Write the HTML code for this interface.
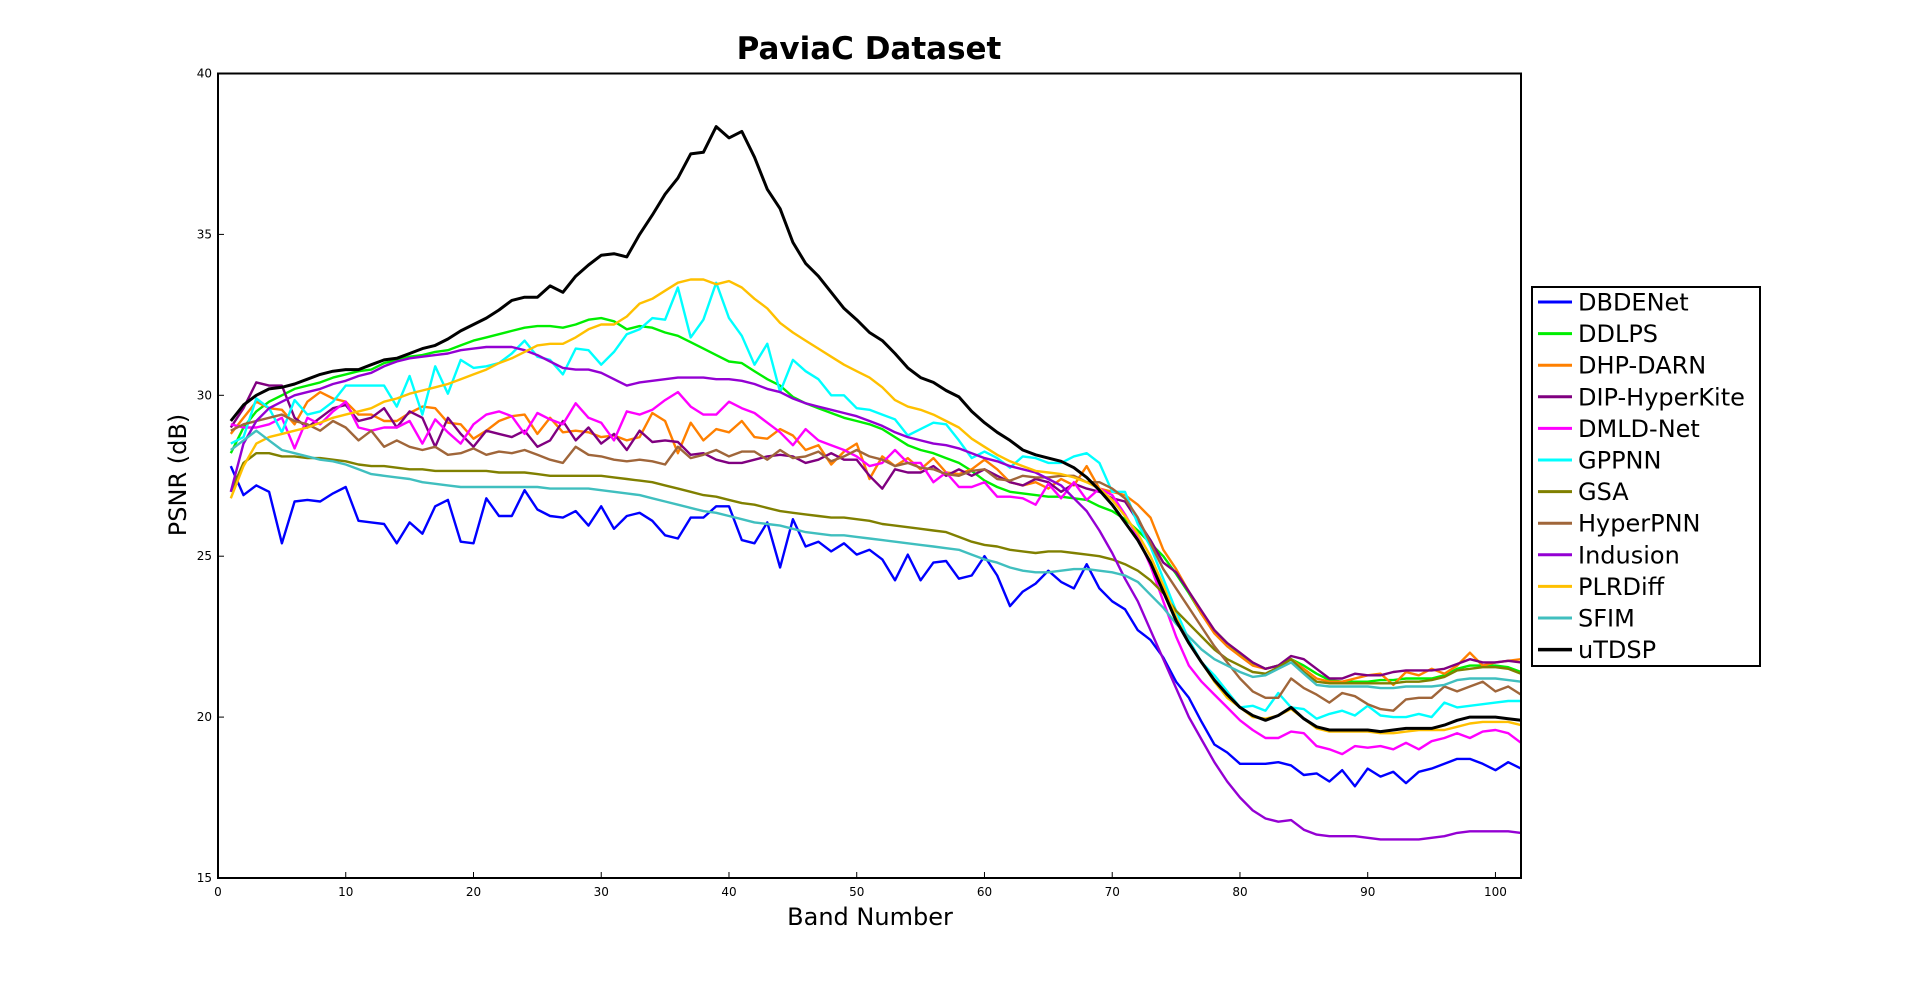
<!DOCTYPE html>
<html><head><meta charset="utf-8"><title>PaviaC Dataset</title>
<style>html,body{margin:0;padding:0;background:#fff;}svg{display:block;font-family:"DejaVu Sans","Liberation Sans",sans-serif;}</style>
</head><body>
<svg id="chart" width="1920" height="988" viewBox="0 0 1920 988" xmlns="http://www.w3.org/2000/svg">
<rect x="0" y="0" width="1920" height="988" fill="#fff"/>
<text x="869" y="59" text-anchor="middle" font-size="31" font-weight="bold">PaviaC Dataset</text>
<g id="series"></g>
<rect x="218" y="73.5" width="1303" height="804.5" fill="none" stroke="#000" stroke-width="2"/>
<g id="ticks"></g>
<text x="870" y="925" text-anchor="middle" font-size="24">Band Number</text>
<text x="186" y="475" text-anchor="middle" font-size="24" transform="rotate(-90 186 475)">PSNR (dB)</text>
<g id="legend"></g>
</svg>
<script>
const xTicks=[0,10,20,30,40,50,60,70,80,90,100];
const yTicks=[15,20,25,30,35,40];
const seriesNames=["DBDENet","DDLPS","DHP-DARN","DIP-HyperKite","DMLD-Net","GPPNN","GSA","HyperPNN","Indusion","PLRDiff","SFIM","uTDSP"];
const seriesColors=["#0000ff","#00ee00","#ff8000","#800080","#ff00ff","#00ffff","#808000","#a0663a","#9400d3","#ffc000","#40bfbf","#000000"];
const dbdenet=[27.8,26.9,27.2,27.0,25.4,26.7,26.75,26.7,26.95,27.15,26.1,26.05,26.0,25.4,26.05,25.7,26.55,26.75,25.45,25.4,26.8,26.25,26.25,27.05,26.45,26.25,26.2,26.4,25.95,26.55,25.85,26.25,26.35,26.1,25.65,25.55,26.2,26.2,26.55,26.55,25.5,25.4,26.05,24.65,26.15,25.3,25.45,25.15,25.4,25.05,25.2,24.9,24.25,25.05,24.25,24.8,24.85,24.3,24.4,25.0,24.4,23.45,23.9,24.15,24.55,24.2,24.0,24.75,24.0,23.6,23.35,22.7,22.4,21.85,21.1,20.6,19.85,19.15,18.9,18.55,18.55,18.55,18.6,18.5,18.2,18.25,18.0,18.35,17.85,18.4,18.15,18.3,17.95,18.3,18.4,18.55,18.7,18.7,18.55,18.35,18.6,18.4];
const ddlps=[28.2,29.0,29.5,29.8,30.0,30.2,30.3,30.4,30.55,30.65,30.75,30.8,31.0,31.1,31.2,31.25,31.35,31.4,31.55,31.7,31.8,31.9,32.0,32.1,32.15,32.15,32.1,32.2,32.35,32.4,32.3,32.05,32.15,32.1,31.95,31.85,31.65,31.45,31.25,31.05,31.0,30.75,30.5,30.3,29.95,29.75,29.6,29.45,29.3,29.2,29.1,28.95,28.7,28.45,28.3,28.2,28.05,27.9,27.65,27.35,27.15,27.0,26.95,26.9,26.85,26.85,26.8,26.75,26.55,26.4,26.15,25.8,25.4,25.0,24.45,23.85,23.2,22.7,22.3,21.95,21.65,21.5,21.6,21.8,21.6,21.35,21.15,21.1,21.1,21.1,21.15,21.15,21.2,21.2,21.2,21.3,21.5,21.6,21.6,21.6,21.55,21.4];
const dhpdarn=[28.8,29.3,29.8,29.6,29.55,29.1,29.8,30.1,29.9,29.8,29.4,29.4,29.2,29.2,29.45,29.65,29.6,29.15,29.1,28.65,28.9,29.2,29.35,29.4,28.8,29.3,28.85,28.9,28.85,28.7,28.75,28.6,28.7,29.45,29.2,28.2,29.15,28.6,28.95,28.85,29.2,28.7,28.65,28.95,28.75,28.3,28.45,27.85,28.25,28.5,27.4,28.1,27.8,28.05,27.7,28.05,27.6,27.55,27.7,28.0,27.7,27.3,27.2,27.3,27.1,27.4,27.2,27.8,27.1,27.0,26.9,26.6,26.2,25.2,24.6,23.9,23.2,22.6,22.2,21.9,21.6,21.5,21.6,21.8,21.5,21.2,21.1,21.1,21.2,21.3,21.35,21.0,21.4,21.3,21.5,21.35,21.6,22.0,21.6,21.7,21.75,21.8];
const diphyperkite=[29.0,29.6,30.4,30.3,30.3,29.3,29.0,29.3,29.6,29.7,29.2,29.3,29.6,29.0,29.5,29.3,28.4,29.3,28.8,28.4,28.9,28.8,28.7,28.9,28.4,28.6,29.2,28.6,29.0,28.5,28.8,28.3,28.9,28.55,28.6,28.55,28.15,28.2,28.0,27.9,27.9,28.0,28.1,28.15,28.1,27.9,28.0,28.2,28.0,28.0,27.5,27.1,27.7,27.6,27.6,27.8,27.5,27.7,27.5,27.7,27.5,27.3,27.2,27.4,27.3,27.0,27.25,27.1,27.0,26.8,26.7,26.1,25.5,24.8,24.5,23.9,23.3,22.7,22.3,22.0,21.7,21.5,21.6,21.9,21.8,21.5,21.2,21.2,21.35,21.3,21.3,21.4,21.45,21.45,21.45,21.5,21.65,21.8,21.7,21.7,21.75,21.7];
const dmldnet=[29.1,29.0,29.0,29.1,29.3,28.35,29.3,29.1,29.5,29.8,29.0,28.9,29.0,29.0,29.2,28.5,29.25,28.85,28.5,29.1,29.4,29.5,29.35,28.8,29.45,29.25,29.1,29.75,29.3,29.15,28.6,29.5,29.4,29.55,29.85,30.1,29.65,29.4,29.4,29.8,29.6,29.45,29.15,28.85,28.45,28.95,28.6,28.45,28.3,28.1,27.8,27.9,28.3,27.9,27.9,27.3,27.6,27.15,27.15,27.3,26.85,26.85,26.8,26.6,27.25,26.8,27.3,26.75,27.1,26.9,26.3,25.6,24.7,23.6,22.5,21.6,21.1,20.7,20.3,19.9,19.6,19.35,19.35,19.55,19.5,19.1,19.0,18.85,19.1,19.05,19.1,19.0,19.2,19.0,19.25,19.35,19.5,19.35,19.55,19.6,19.5,19.2];
const gppnn=[28.5,28.7,29.9,29.6,28.85,29.85,29.4,29.5,29.8,30.3,30.3,30.3,30.3,29.65,30.6,29.4,30.9,30.05,31.1,30.85,30.9,31.0,31.3,31.7,31.2,31.1,30.65,31.45,31.4,30.95,31.35,31.9,32.05,32.4,32.35,33.35,31.8,32.35,33.5,32.4,31.85,30.95,31.6,30.1,31.1,30.75,30.5,30.0,30.0,29.6,29.55,29.4,29.25,28.75,28.95,29.15,29.1,28.6,28.05,28.25,28.05,27.75,28.1,28.05,27.9,27.9,28.1,28.2,27.9,27.0,27.0,26.0,25.3,24.3,23.3,22.4,21.7,21.3,20.8,20.3,20.35,20.2,20.75,20.3,20.25,19.95,20.1,20.2,20.05,20.35,20.05,20.0,20.0,20.1,20.0,20.45,20.3,20.35,20.4,20.45,20.5,20.5];
const gsa=[27.0,27.9,28.2,28.2,28.1,28.1,28.05,28.05,28.0,27.95,27.85,27.8,27.8,27.75,27.7,27.7,27.65,27.65,27.65,27.65,27.65,27.6,27.6,27.6,27.55,27.5,27.5,27.5,27.5,27.5,27.45,27.4,27.35,27.3,27.2,27.1,27.0,26.9,26.85,26.75,26.65,26.6,26.5,26.4,26.35,26.3,26.25,26.2,26.2,26.15,26.1,26.0,25.95,25.9,25.85,25.8,25.75,25.6,25.45,25.35,25.3,25.2,25.15,25.1,25.15,25.15,25.1,25.05,25.0,24.9,24.75,24.55,24.25,23.85,23.3,22.9,22.5,22.1,21.8,21.6,21.4,21.35,21.55,21.8,21.4,21.1,21.05,21.05,21.05,21.05,21.05,21.05,21.1,21.1,21.15,21.25,21.45,21.5,21.55,21.55,21.5,21.35];
const hyperpnn=[28.9,29.1,29.2,29.3,29.4,29.2,29.1,28.9,29.2,29.0,28.6,28.9,28.4,28.6,28.4,28.3,28.4,28.15,28.2,28.35,28.15,28.25,28.2,28.3,28.15,28.0,27.9,28.4,28.15,28.1,28.0,27.95,28.0,27.95,27.85,28.4,28.05,28.15,28.3,28.1,28.25,28.25,28.0,28.3,28.05,28.1,28.25,27.95,28.1,28.3,28.1,28.0,27.8,27.9,27.75,27.7,27.55,27.5,27.65,27.7,27.4,27.35,27.5,27.45,27.45,27.5,27.5,27.3,27.3,27.1,26.8,26.2,25.4,24.6,24.0,23.4,22.8,22.2,21.7,21.2,20.8,20.6,20.6,21.2,20.9,20.7,20.45,20.75,20.65,20.4,20.25,20.2,20.55,20.6,20.6,20.95,20.8,20.95,21.1,20.8,20.95,20.7];
const indusion=[27.0,28.5,29.2,29.6,29.8,30.0,30.1,30.2,30.35,30.45,30.6,30.7,30.9,31.05,31.15,31.2,31.25,31.3,31.4,31.45,31.5,31.5,31.5,31.4,31.25,31.05,30.85,30.8,30.8,30.7,30.5,30.3,30.4,30.45,30.5,30.55,30.55,30.55,30.5,30.5,30.45,30.35,30.2,30.1,29.9,29.75,29.65,29.55,29.45,29.35,29.2,29.05,28.85,28.7,28.6,28.5,28.45,28.35,28.2,28.05,27.95,27.8,27.7,27.6,27.4,27.2,26.8,26.4,25.8,25.1,24.3,23.6,22.7,21.8,20.9,20.0,19.3,18.6,18.0,17.5,17.1,16.85,16.75,16.8,16.5,16.35,16.3,16.3,16.3,16.25,16.2,16.2,16.2,16.2,16.25,16.3,16.4,16.45,16.45,16.45,16.45,16.4];
const plrdiff=[26.8,27.8,28.5,28.7,28.8,28.9,29.0,29.15,29.3,29.4,29.5,29.6,29.8,29.9,30.05,30.15,30.25,30.35,30.5,30.65,30.8,31.0,31.15,31.35,31.55,31.6,31.6,31.8,32.05,32.2,32.2,32.45,32.85,33.0,33.25,33.5,33.6,33.6,33.45,33.55,33.35,33.0,32.7,32.25,31.95,31.7,31.45,31.2,30.95,30.75,30.55,30.25,29.85,29.65,29.55,29.4,29.2,29.0,28.65,28.4,28.15,27.95,27.8,27.65,27.6,27.55,27.45,27.3,27.1,26.75,26.25,25.7,25.0,24.1,23.1,22.3,21.7,21.1,20.6,20.3,20.0,19.95,20.05,20.25,19.95,19.65,19.55,19.55,19.55,19.55,19.5,19.5,19.55,19.6,19.6,19.6,19.7,19.8,19.85,19.85,19.85,19.75];
const sfim=[28.3,28.6,28.9,28.6,28.3,28.2,28.1,28.0,27.95,27.85,27.7,27.55,27.5,27.45,27.4,27.3,27.25,27.2,27.15,27.15,27.15,27.15,27.15,27.15,27.15,27.1,27.1,27.1,27.1,27.05,27.0,26.95,26.9,26.8,26.7,26.6,26.5,26.4,26.35,26.25,26.15,26.05,26.0,25.95,25.85,25.75,25.7,25.65,25.65,25.6,25.55,25.5,25.45,25.4,25.35,25.3,25.25,25.2,25.05,24.9,24.8,24.65,24.55,24.5,24.5,24.55,24.6,24.6,24.55,24.5,24.4,24.2,23.8,23.4,22.9,22.5,22.1,21.8,21.6,21.4,21.25,21.3,21.5,21.7,21.35,21.0,20.95,20.95,20.95,20.95,20.9,20.9,20.95,20.95,20.95,21.0,21.15,21.2,21.2,21.2,21.15,21.1];
const utdsp=[29.2,29.7,30.0,30.2,30.25,30.35,30.5,30.65,30.75,30.8,30.8,30.95,31.1,31.15,31.3,31.45,31.55,31.75,32.0,32.2,32.4,32.65,32.95,33.05,33.05,33.4,33.2,33.7,34.05,34.35,34.4,34.3,35.0,35.6,36.25,36.75,37.5,37.55,38.35,38.0,38.2,37.4,36.4,35.8,34.75,34.1,33.7,33.2,32.7,32.35,31.95,31.7,31.3,30.85,30.55,30.4,30.15,29.95,29.5,29.15,28.85,28.6,28.3,28.15,28.05,27.95,27.75,27.45,27.05,26.6,26.05,25.5,24.8,23.9,23.0,22.3,21.7,21.15,20.7,20.3,20.05,19.9,20.05,20.3,19.95,19.7,19.6,19.6,19.6,19.6,19.55,19.6,19.65,19.65,19.65,19.75,19.9,20.0,20.0,20.0,19.95,19.9];
const seriesValues=[dbdenet,ddlps,dhpdarn,diphyperkite,dmldnet,gppnn,gsa,hyperpnn,indusion,plrdiff,sfim,utdsp];

const NS="http://www.w3.org/2000/svg";
const X0=218,X1=1521,Y0=878,Y1=73.5,XMAX=102,YMIN=15,YMAX=40;
function xs(v){return X0+(v/XMAX)*(X1-X0);}
function ys(v){return Y0-(v-YMIN)/(YMAX-YMIN)*(Y0-Y1);}
function mk(tag,attrs,parent){const e=document.createElementNS(NS,tag);for(const k in attrs)e.setAttribute(k,attrs[k]);parent.appendChild(e);return e;}

const sg=document.getElementById('series');
seriesValues.forEach((vals,si)=>{
  const pts=vals.map((v,i)=>xs(i+1).toFixed(1)+','+ys(v).toFixed(1)).join(' ');
  const isBold=si===11;
  const pl=mk('polyline',{points:pts,fill:'none',stroke:seriesColors[si],'stroke-width':isBold?3:2.4,'stroke-linejoin':'round'},sg);
  
  
});

const tg=document.getElementById('ticks');
xTicks.forEach(t=>{
  const l=mk('line',{x1:xs(t),x2:xs(t),y1:Y0,y2:Y0-6,stroke:'#000','stroke-width':1},tg);
  
  
  const tx=mk('text',{x:xs(t),y:Y0+18,'text-anchor':'middle','font-size':12},tg);
  tx.textContent=t;
  
  
});
yTicks.forEach(t=>{
  const l=mk('line',{x1:X0,x2:X0+6,y1:ys(t),y2:ys(t),stroke:'#000','stroke-width':1},tg);
  
  
  const tx=mk('text',{x:X0-6,y:ys(t)+4,'text-anchor':'end','font-size':12},tg);
  tx.textContent=t;
  
  
});

const lg=document.getElementById('legend');
const box=mk('rect',{x:1532,y:287,width:228,height:379,fill:'#fff',stroke:'#000','stroke-width':2},lg);


seriesNames.forEach((n,i)=>{
  const y=302+i*31.6;
  const l=mk('line',{x1:1538,x2:1572,y1:y,y2:y,stroke:seriesColors[i],'stroke-width':i===11?3.5:3},lg);
  
  
  const tx=mk('text',{x:1578,y:y+8.5,'font-size':24},lg);
  tx.textContent=n;
  
  
});
</script>
</body></html>
